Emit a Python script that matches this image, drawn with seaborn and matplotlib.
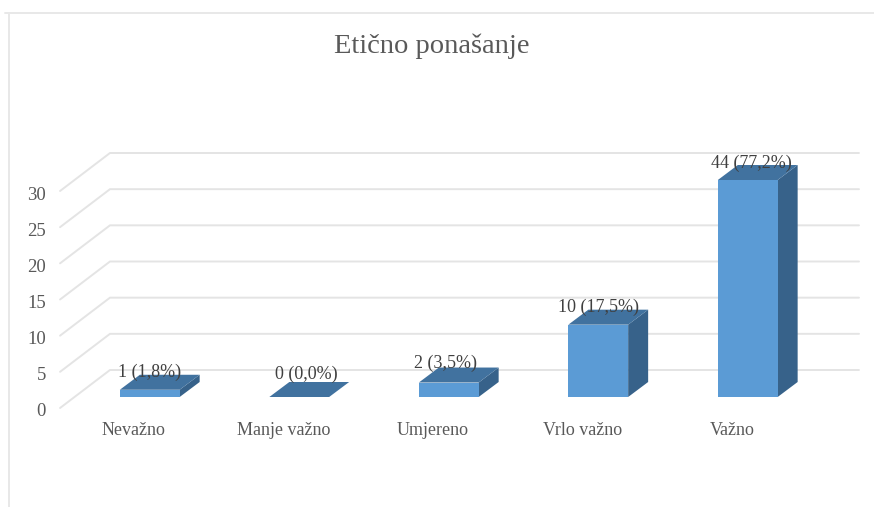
import matplotlib
matplotlib.use("Agg")
import matplotlib.pyplot as plt
import seaborn as sns
from matplotlib.patches import Polygon
from matplotlib.transforms import ScaledTranslation

# Data ########################################################################
categories = ["Nevažno", "Manje važno", "Umjereno", "Vrlo važno", "Važno"]
counts = [1, 0, 2, 10, 44]
percents = ["1,8%", "0,0%", "3,5%", "17,5%", "77,2%"]
y_ticks = [0, 5, 10, 15, 20, 25, 30]

sns.set_theme(style="white")
plt.rcParams["font.family"] = ["Liberation Serif", "DejaVu Serif"]

W, H, DPI = 874, 507, 100
FRONT = "#5b9bd5"
SIDE = "#37628a"
TOP = "#41729f"
GRID = "#e4e4e4"
TEXT = "#595959"

fig = plt.figure(figsize=(W / DPI, H / DPI), dpi=DPI)
# axes = plane of the bar fronts, 0 at py 397, 30 at py 180
ax = fig.add_axes([75 / W, 1 - 397 / H, 747.5 / W, 217 / H])

sns.barplot(x=categories, y=counts, color=FRONT, saturation=1, width=0.4, ax=ax,
            zorder=3, linewidth=0)
ax.set_xlim(-0.5, 4.5)
ax.set_ylim(0, 30)
sns.despine(ax=ax, left=True, bottom=True)

px_x = 1 / 149.5  # one pixel in category units
px_y = 30 / 217  # one pixel in value units

# Walls / gridlines ###########################################################
for t in y_ticks:
    back = t + 27 * px_y
    front = t - 11 * px_y
    ax.plot([-0.6, -0.266, 4.744], [front, back, back], color=GRID, lw=1.4,
            clip_on=False, zorder=1, solid_joinstyle="miter")

# Depth of the bars ###########################################################
dx, dy = 20 * px_x, 15 * px_y
for bar in ax.patches[:len(counts)]:
    x0, x1 = bar.get_x(), bar.get_x() + bar.get_width()
    h = min(bar.get_height(), 30)
    ax.add_patch(Polygon([(x1, 0), (x1 + dx, dy), (x1 + dx, h + dy), (x1, h)],
                         fc=SIDE, ec="none", clip_on=False, zorder=2))
    ax.add_patch(Polygon([(x0, h), (x0 + dx, h + dy), (x1 + dx, h + dy), (x1, h)],
                         fc=TOP, ec="none", clip_on=False, zorder=2))

# Data labels #################################################################
# small nudges in points, the labels are not placed quite the same on each bar
nudge_x = [0, 5, -2, 0, 2.5]
nudge_y = [12.5, 16.5, 14, 12.5, 12]
for i, (bar, n, pct) in enumerate(zip(ax.patches[:len(counts)], counts, percents)):
    ax.annotate(f"{n} ({pct})", (bar.get_x() + bar.get_width() / 2, min(n, 30)),
                xytext=(nudge_x[i], nudge_y[i]), textcoords="offset points",
                ha="center", va="center", fontsize=13, color="#404040", zorder=5,
                annotation_clip=False)

# Axes text ###################################################################
ax.set_yticks(y_ticks)
ax.set_yticklabels([str(t) for t in y_ticks])
ax.tick_params(axis="y", length=0, pad=21, labelsize=13.5, labelcolor=TEXT)
ax.tick_params(axis="x", length=0, pad=18, labelsize=13, labelcolor=TEXT)
for lab in ax.get_yticklabels():
    lab.set_transform(lab.get_transform() + ScaledTranslation(0, -13 / DPI, fig.dpi_scale_trans))
for lab in ax.get_xticklabels():
    lab.set_transform(lab.get_transform() + ScaledTranslation(-16 / DPI, 0, fig.dpi_scale_trans))

fig.text(432 / W, 1 - 46 / H, "Etično ponašanje", ha="center", va="center",
         fontsize=20.5, color=TEXT)

# Chart frame, only top and left visible in the crop
fig.add_artist(plt.Line2D([5 / W, 1], [1 - 13 / H, 1 - 13 / H], color="#e8e8e8", lw=1.4))
fig.add_artist(plt.Line2D([9 / W, 9 / W], [0, 1 - 13 / H], color="#e8e8e8", lw=1.4))

fig.savefig("out.png", dpi=DPI)
